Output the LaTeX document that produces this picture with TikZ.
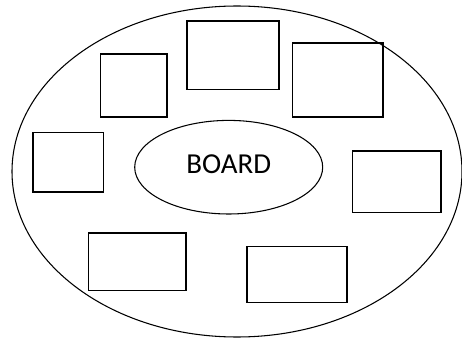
\documentclass[tikz,border=0pt]{standalone}
\usepackage{fontspec}
\setmainfont{Carlito}
\usetikzlibrary{shapes.geometric}

\begin{document}
\begin{tikzpicture}[x=0.75pt, y=-0.75pt]
		%%%%% START %%%%%
		\useasboundingbox (0, 0) rectangle (462, 339);
		
		% room
		\draw[line width=0.8pt] (237, 171.5) ellipse (225 and 165.5);
		
		% board in the middle
		\node[draw, ellipse, line width=0.8pt, inner sep=0pt, minimum width=141pt, minimum height=70.2pt, text depth=5.1pt, font=\fontsize{21.7}{24}\selectfont] (board) at (228.7, 167.2) {BOARD};
		
		% tables round the board
		\draw[line width=1.1pt] (100.7, 54) rectangle (167, 117);
		\draw[line width=1.1pt] (187, 21) rectangle (279, 89.7);
		\draw[line width=1.1pt] (292.7, 43) rectangle (383, 117);
		\draw[line width=1.1pt] (33, 132.7) rectangle (103.7, 192);
		\draw[line width=1.1pt] (352.7, 151) rectangle (441, 212.7);
		\draw[line width=1.1pt] (88.3, 233) rectangle (186, 290.7);
		\draw[line width=1.1pt] (247, 246.7) rectangle (347, 302.7);
		
		%%%%% END %%%%%
	\end{tikzpicture}
\end{document}
